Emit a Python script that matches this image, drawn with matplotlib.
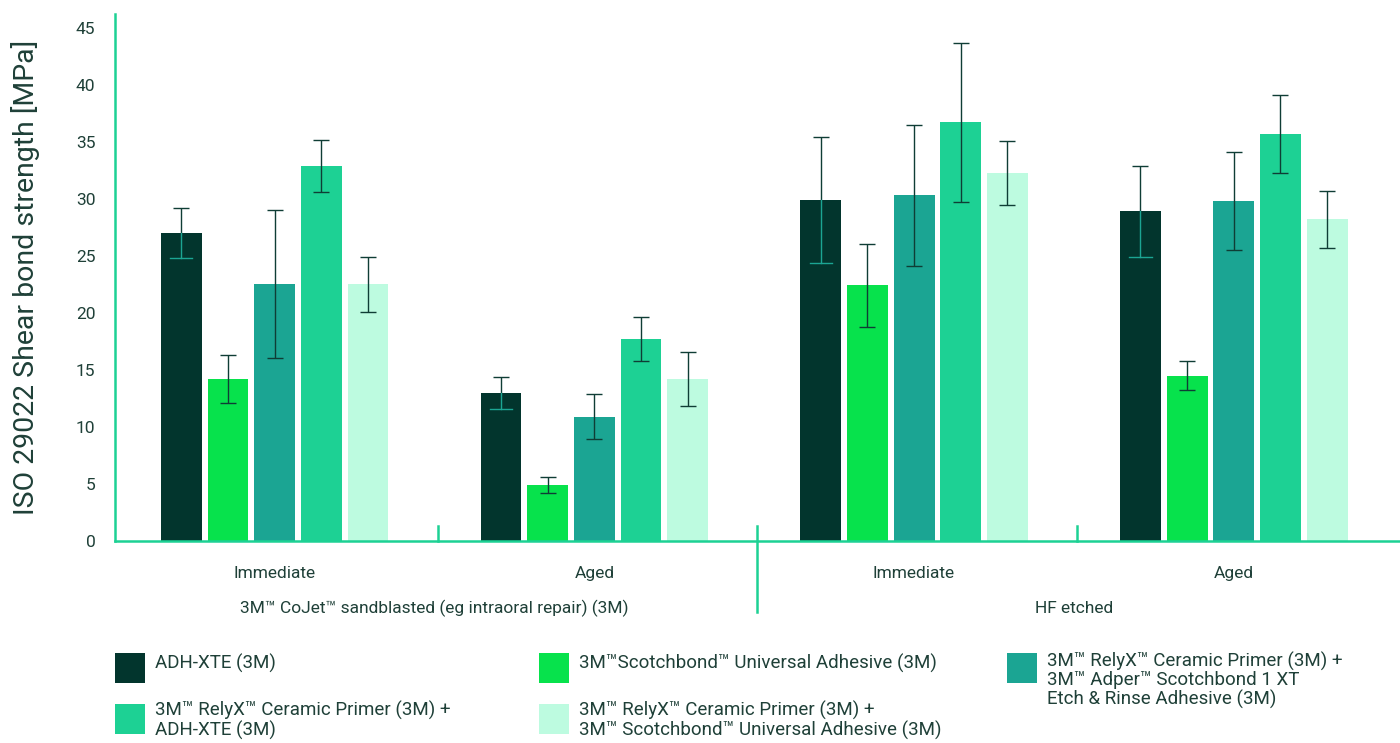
import numpy as np
import matplotlib.pyplot as plt
from matplotlib.patches import Rectangle

plt.rcParams['font.family'] = ['Roboto', 'DejaVu Sans']

# groups along the x axis
conditions = ["Immediate", "Aged", "Immediate", "Aged"]
treatments = ["3M\u2122 CoJet\u2122 sandblasted (eg intraoral repair) (3M)", "HF etched"]

series_labels = [
    "ADH-XTE (3M)",
    "3M\u2122Scotchbond\u2122 Universal Adhesive (3M)",
    "3M\u2122 RelyX\u2122 Ceramic Primer (3M) +\n3M\u2122 Adper\u2122 Scotchbond 1 XT\nEtch & Rinse Adhesive (3M)",
    "3M\u2122 RelyX\u2122 Ceramic Primer (3M) +\nADH-XTE (3M)",
    "3M\u2122 RelyX\u2122 Ceramic Primer (3M) +\n3M\u2122 Scotchbond\u2122 Universal Adhesive (3M)",
]
colors = ["#02352d", "#07e24c", "#1ba593", "#1dd194", "#bdfbe0"]

# mean shear bond strength [MPa], one list per series (4 groups each)
adh_xte = [27.0, 13.0, 29.9, 28.9]
scotchbond = [14.2, 4.9, 22.4, 14.5]
primer_adper = [22.5, 10.9, 30.3, 29.8]
primer_adh = [32.9, 17.7, 36.7, 35.7]
primer_scotchbond = [22.5, 14.2, 32.3, 28.2]

# standard deviations
adh_xte_sd = [2.2, 1.4, 5.5, 4.0]
scotchbond_sd = [2.1, 0.7, 3.65, 1.3]
primer_adper_sd = [6.5, 2.0, 6.2, 4.3]
primer_adh_sd = [2.3, 1.95, 7.0, 3.4]
primer_scotchbond_sd = [2.4, 2.4, 2.8, 2.5]

means = [adh_xte, scotchbond, primer_adper, primer_adh, primer_scotchbond]
sds = [adh_xte_sd, scotchbond_sd, primer_adper_sd, primer_adh_sd, primer_scotchbond_sd]

text_col = "#1f4038"
axis_col = "#1dd194"
err_col = "#0f3d35"

fig = plt.figure(figsize=(14, 7.43), dpi=100)
ax = fig.add_axes([0.082, 0.272, 0.918, 0.709])

x = np.arange(len(conditions))
pitch = 0.146
width = 0.128
for i, (m, s) in enumerate(zip(means, sds)):
    xs = x + (i - 2) * pitch
    ax.bar(xs, m, width, color=colors[i], zorder=2)
    ax.errorbar(xs, m, yerr=s, fmt='none', ecolor=err_col, elinewidth=1.0,
                capsize=6, capthick=1.0, zorder=3)
    if i == 0:
        # the part of the error bar inside the dark bar shows in teal
        for xi, mi, si in zip(xs, m, s):
            ax.plot([xi, xi], [mi - si, mi], color="#1ba593", lw=1.0, zorder=4)
            ax.plot([xi - 0.035, xi + 0.035], [mi - si, mi - si],
                    color="#1ba593", lw=1.0, zorder=4)

ax.set_xlim(-0.5, 3.52)
ax.set_ylim(0, 46.2)
ax.set_yticks(np.arange(0, 46, 5))
ax.tick_params(axis='y', length=0, pad=14, labelsize=12.5, labelcolor=text_col)
ax.set_xticks(x, conditions)
ax.tick_params(axis='x', length=0, pad=18, labelsize=12.5, labelcolor=text_col)

for side in ['top', 'right']:
    ax.spines[side].set_visible(False)
for side in ['left', 'bottom']:
    ax.spines[side].set_color(axis_col)
    ax.spines[side].set_linewidth(1.8)

ax.set_ylabel("ISO 29022 Shear bond strength [MPa]", fontsize=20.5, color=text_col, labelpad=26)

# group separators
tr = ax.get_xaxis_transform()
for xs_ in [0.51, 2.51]:
    ax.plot([xs_, xs_], [0, 0.028], transform=tr, color=axis_col, lw=1.8, clip_on=False)
ax.plot([1.51, 1.51], [-0.135, 0.028], transform=tr, color=axis_col, lw=1.8, clip_on=False)

for k, t in enumerate(treatments):
    ax.text(0.5 + 2 * k, -0.129, t, transform=tr, ha='center', va='center',
            fontsize=12.5, color=text_col)

# legend, laid out by hand as in the original
leg_pos = [(115, 653), (539, 653), (1007, 653), (115, 704), (539, 704)]
W, H = 1400.0, 743.0
for (px, py), lab, c in zip(leg_pos, series_labels, colors):
    fig.add_artist(Rectangle((px / W, 1 - (py + 30) / H), 30 / W, 30 / H,
                             transform=fig.transFigure, facecolor=c, edgecolor='none'))
    nl = lab.count("\n")
    top = py + 1 if nl == 0 else (py - 1 if nl == 2 else py - 3)
    fig.text((px + 40) / W, 1 - top / H, lab, ha='left', va='top', fontsize=13.5,
             color=text_col, linespacing=1.02)

fig.savefig("out.png", dpi=100)
